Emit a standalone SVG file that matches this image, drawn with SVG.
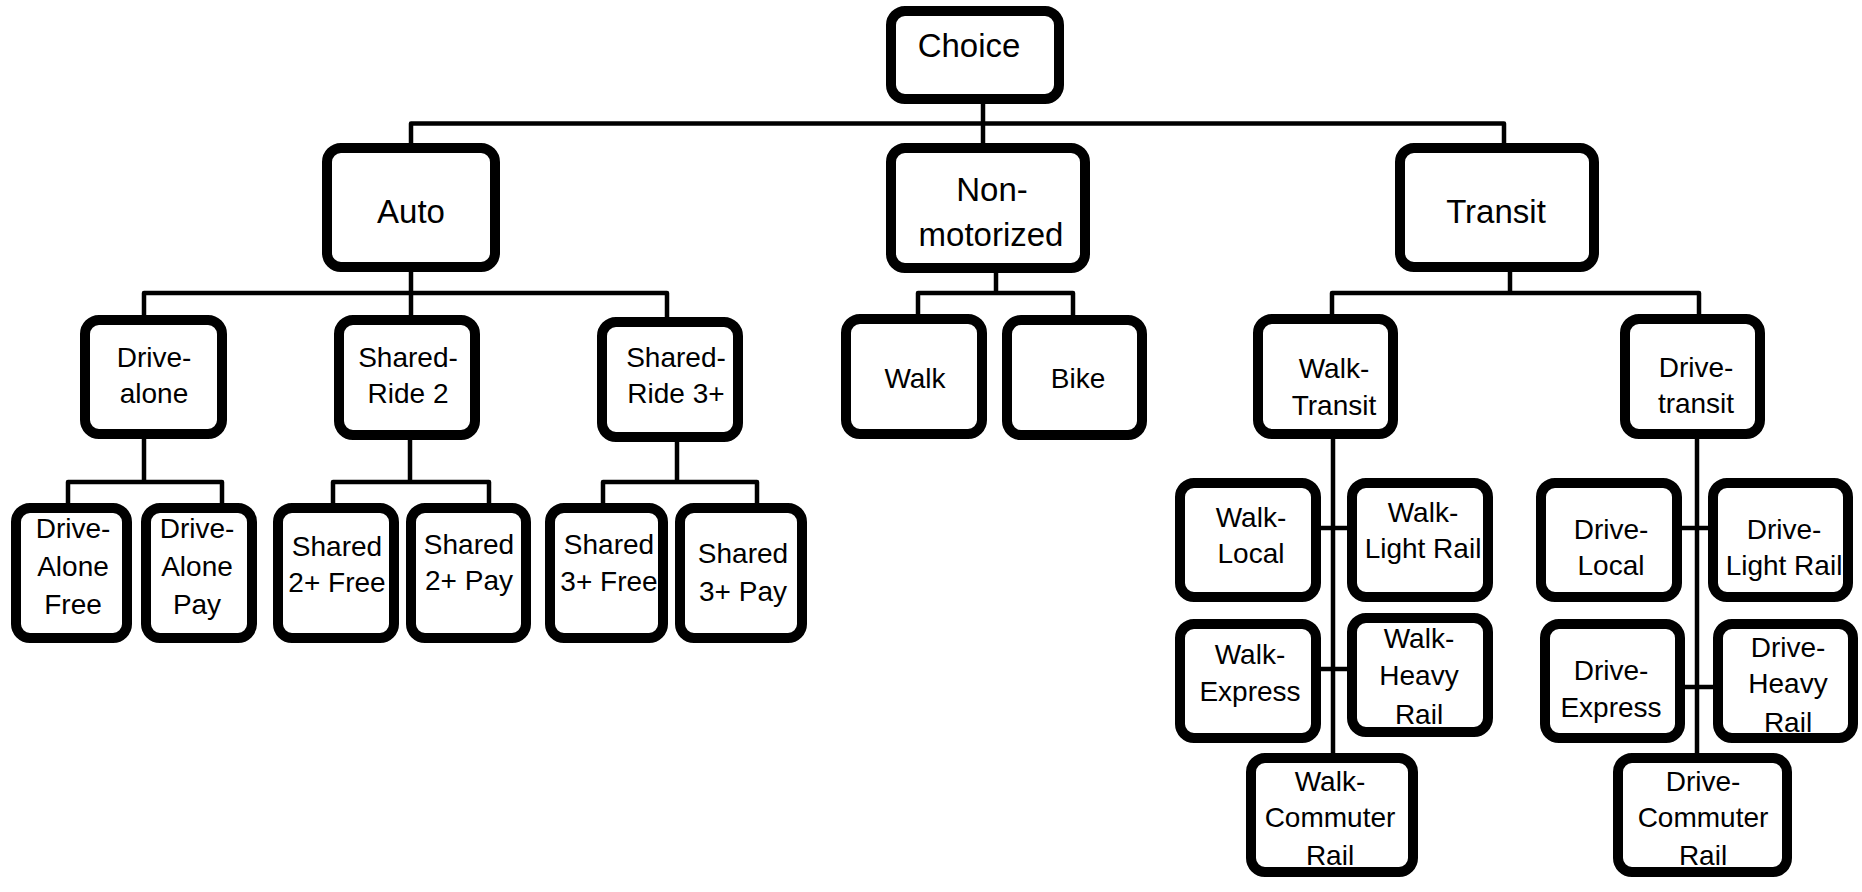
<svg xmlns="http://www.w3.org/2000/svg" width="1862" height="892" viewBox="0 0 1862 892">
<style>
.bg{fill:#ffffff}
.box{fill:#ffffff;stroke:#000000;stroke-width:10}
.lnk{fill:none;stroke:#000000;stroke-width:4.5;stroke-linejoin:round}
.t1{font-family:"Liberation Sans",Arial,sans-serif;font-size:33px;fill:#000000;text-anchor:middle}
.t2{font-family:"Liberation Sans",Arial,sans-serif;font-size:28px;fill:#000000;text-anchor:middle}
</style>
<rect class="bg" x="0" y="0" width="1862" height="892"/>
<g id="connectors">
<path class="lnk" d="M983,104 V143"/>
<path class="lnk" d="M411,143 V123.5 H1504 V143"/>
<path class="lnk" d="M411,272 V317"/>
<path class="lnk" d="M144,315 V293 H667 V317"/>
<path class="lnk" d="M996,273 V293"/>
<path class="lnk" d="M918,314 V293 H1073 V315"/>
<path class="lnk" d="M1510,272 V293"/>
<path class="lnk" d="M1332,315 V293 H1699 V314"/>
<path class="lnk" d="M144,439 V482"/>
<path class="lnk" d="M68,503 V482 H222 V503"/>
<path class="lnk" d="M410,440 V482"/>
<path class="lnk" d="M333,503 V482 H489 V503"/>
<path class="lnk" d="M677,442 V482"/>
<path class="lnk" d="M603,503 V482 H757 V503"/>
<path class="lnk" d="M1333,439 V753"/>
<path class="lnk" d="M1321,528 H1347"/>
<path class="lnk" d="M1321,669 H1347"/>
<path class="lnk" d="M1697,439 V753"/>
<path class="lnk" d="M1682,528 H1708"/>
<path class="lnk" d="M1685,687 H1713"/>
</g>
<g id="choice"><rect class="box" x="891" y="11" width="168" height="88" rx="14"/><text class="t1" x="969" y="57">Choice</text></g>
<g id="auto"><rect class="box" x="327" y="148" width="168" height="119" rx="14"/><text class="t1" x="411" y="223">Auto</text></g>
<g id="nonmotorized"><rect class="box" x="891" y="148" width="194" height="120" rx="14"/><text class="t1" x="992" y="201">Non-</text><text class="t1" x="991" y="246">motorized</text></g>
<g id="transit"><rect class="box" x="1400" y="148" width="194" height="119" rx="14"/><text class="t1" x="1496" y="223">Transit</text></g>
<g id="drive-alone"><rect class="box" x="85" y="320" width="137" height="114" rx="14"/><text class="t2" x="154" y="367">Drive-</text><text class="t2" x="154" y="403">alone</text></g>
<g id="shared-ride-2"><rect class="box" x="339" y="320" width="136" height="115" rx="14"/><text class="t2" x="408" y="367">Shared-</text><text class="t2" x="408" y="403">Ride 2</text></g>
<g id="shared-ride-3"><rect class="box" x="602" y="322" width="136" height="115" rx="14"/><text class="t2" x="676" y="367">Shared-</text><text class="t2" x="676" y="403">Ride 3+</text></g>
<g id="walk"><rect class="box" x="846" y="319" width="136" height="115" rx="14"/><text class="t2" x="915" y="388">Walk</text></g>
<g id="bike"><rect class="box" x="1007" y="320" width="135" height="115" rx="14"/><text class="t2" x="1078" y="388">Bike</text></g>
<g id="walk-transit"><rect class="box" x="1258" y="319" width="135" height="115" rx="14"/><text class="t2" x="1334" y="378">Walk-</text><text class="t2" x="1334" y="415">Transit</text></g>
<g id="drive-transit"><rect class="box" x="1625" y="319" width="135" height="115" rx="14"/><text class="t2" x="1696" y="377">Drive-</text><text class="t2" x="1696" y="413">transit</text></g>
<g id="drive-alone-free"><rect class="box" x="16" y="508" width="111" height="130" rx="14"/><text class="t2" x="73" y="538">Drive-</text><text class="t2" x="73" y="576">Alone</text><text class="t2" x="73" y="614">Free</text></g>
<g id="drive-alone-pay"><rect class="box" x="146" y="508" width="106" height="130" rx="14"/><text class="t2" x="197" y="538">Drive-</text><text class="t2" x="197" y="576">Alone</text><text class="t2" x="197" y="614">Pay</text></g>
<g id="shared-2-free"><rect class="box" x="278" y="508" width="116" height="130" rx="14"/><text class="t2" x="337" y="556">Shared</text><text class="t2" x="337" y="592">2+ Free</text></g>
<g id="shared-2-pay"><rect class="box" x="411" y="508" width="115" height="130" rx="14"/><text class="t2" x="469" y="554">Shared</text><text class="t2" x="469" y="590">2+ Pay</text></g>
<g id="shared-3-free"><rect class="box" x="550" y="508" width="113" height="130" rx="14"/><text class="t2" x="609" y="554">Shared</text><text class="t2" x="609" y="591">3+ Free</text></g>
<g id="shared-3-pay"><rect class="box" x="680" y="508" width="122" height="130" rx="14"/><text class="t2" x="743" y="563">Shared</text><text class="t2" x="743" y="601">3+ Pay</text></g>
<g id="walk-local"><rect class="box" x="1180" y="483" width="136" height="114" rx="14"/><text class="t2" x="1251" y="527">Walk-</text><text class="t2" x="1251" y="563">Local</text></g>
<g id="walk-light-rail"><rect class="box" x="1352" y="483" width="136" height="114" rx="14"/><text class="t2" x="1423" y="522">Walk-</text><text class="t2" x="1423" y="558">Light Rail</text></g>
<g id="walk-express"><rect class="box" x="1180" y="624" width="136" height="114" rx="14"/><text class="t2" x="1250" y="664">Walk-</text><text class="t2" x="1250" y="701">Express</text></g>
<g id="walk-heavy-rail"><rect class="box" x="1352" y="618" width="136" height="114" rx="14"/><text class="t2" x="1419" y="648">Walk-</text><text class="t2" x="1419" y="685">Heavy</text><text class="t2" x="1419" y="724">Rail</text></g>
<g id="walk-commuter-rail"><rect class="box" x="1251" y="758" width="162" height="114" rx="14"/><text class="t2" x="1330" y="791">Walk-</text><text class="t2" x="1330" y="827">Commuter</text><text class="t2" x="1330" y="865">Rail</text></g>
<g id="drive-local"><rect class="box" x="1541" y="483" width="136" height="114" rx="14"/><text class="t2" x="1611" y="539">Drive-</text><text class="t2" x="1611" y="575">Local</text></g>
<g id="drive-light-rail"><rect class="box" x="1713" y="483" width="135" height="114" rx="14"/><text class="t2" x="1784" y="539">Drive-</text><text class="t2" x="1784" y="575">Light Rail</text></g>
<g id="drive-express"><rect class="box" x="1545" y="624" width="135" height="114" rx="14"/><text class="t2" x="1611" y="680">Drive-</text><text class="t2" x="1611" y="717">Express</text></g>
<g id="drive-heavy-rail"><rect class="box" x="1718" y="624" width="135" height="114" rx="14"/><text class="t2" x="1788" y="657">Drive-</text><text class="t2" x="1788" y="693">Heavy</text><text class="t2" x="1788" y="732">Rail</text></g>
<g id="drive-commuter-rail"><rect class="box" x="1618" y="758" width="169" height="114" rx="14"/><text class="t2" x="1703" y="791">Drive-</text><text class="t2" x="1703" y="827">Commuter</text><text class="t2" x="1703" y="865">Rail</text></g>
</svg>
